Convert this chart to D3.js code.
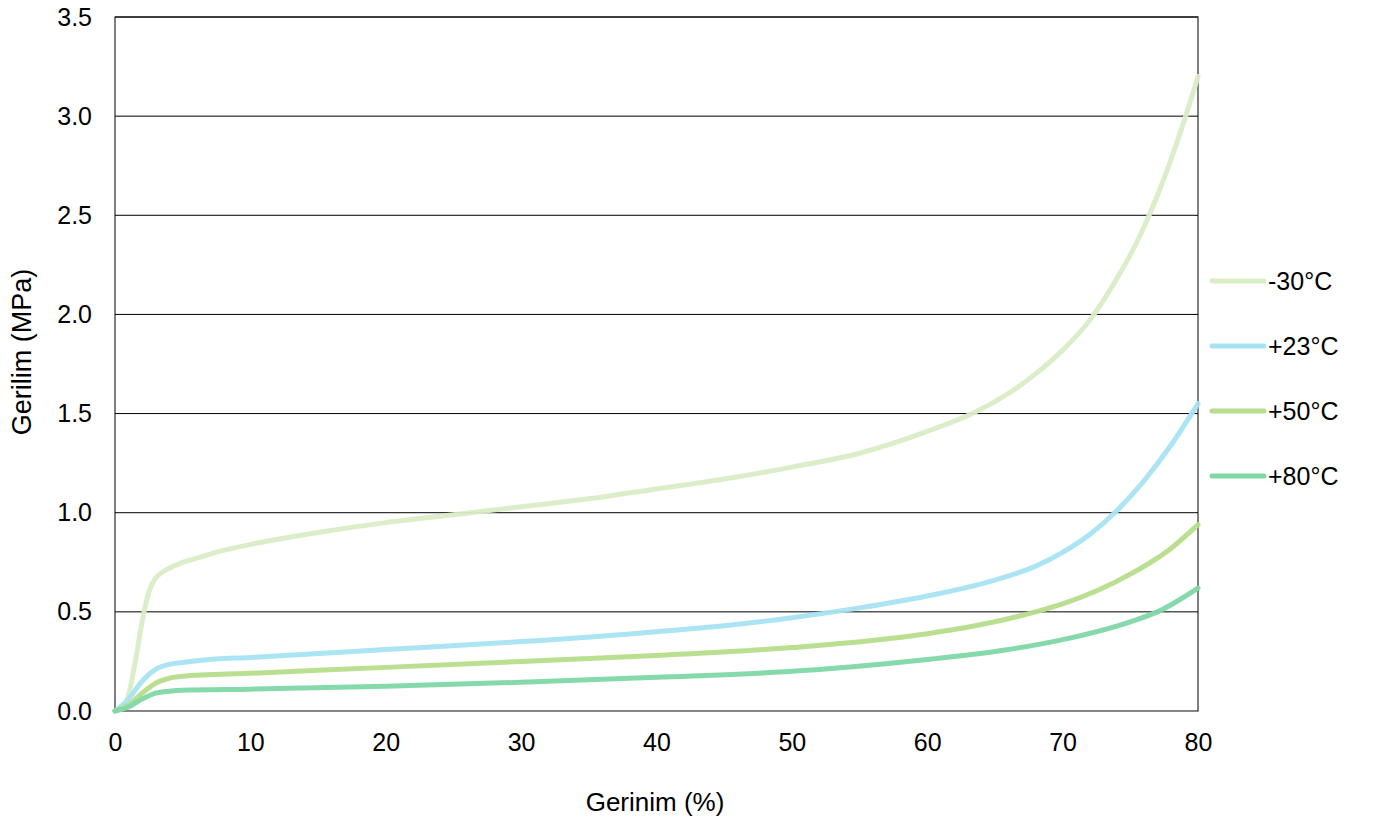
<!DOCTYPE html>
<html><head><meta charset="utf-8">
<script src="https://cdn.jsdelivr.net/npm/d3@7"></script>
<style>body{margin:0;background:#fff;} text{font-family:"Liberation Sans",Arial,sans-serif;}</style>
</head><body><svg id="c" width="1373" height="820"></svg>
<script>
const seriesNames = ["-30°C", "+23°C", "+50°C", "+80°C"];
const seriesColors = ["#d9edc6", "#a7e3f1", "#b6dd8b", "#80d7a6"];
const strain30 = [0,0.5,1,1.5,2,2.5,3,3.5,4,5,6,8,10,15,20,25,30,35,40,45,50,55,60,63,65,68,70,72,73,74,75,76,77,78,79,80];
const stress30 = [0,0.01,0.08,0.25,0.45,0.6,0.67,0.70,0.72,0.75,0.77,0.81,0.84,0.90,0.95,0.99,1.03,1.07,1.12,1.17,1.23,1.30,1.41,1.49,1.56,1.70,1.82,1.97,2.07,2.18,2.30,2.44,2.60,2.78,2.98,3.2];
const strain23 = [0,1,2,3,4,5,7,10,20,30,40,45,50,55,60,65,68,70,72,74,76,78,80];
const stress23 = [0,0.06,0.15,0.21,0.235,0.245,0.26,0.27,0.31,0.35,0.40,0.43,0.47,0.52,0.58,0.66,0.73,0.80,0.89,1.01,1.16,1.34,1.55];
const strain50 = [0,1,2,3,4,5,10,20,30,40,50,60,65,68,70,75,78,80];
const stress50 = [0,0.03,0.09,0.14,0.165,0.175,0.19,0.22,0.25,0.28,0.32,0.39,0.45,0.50,0.54,0.69,0.82,0.94];
const strain80 = [0,1,2,3,4,5,10,20,30,40,50,60,65,70,75,77,80];
const stress80 = [0,0.02,0.06,0.09,0.10,0.105,0.11,0.125,0.145,0.17,0.20,0.26,0.30,0.36,0.45,0.50,0.62];
const xTicks = [0,10,20,30,40,50,60,70,80];
const yTicks = [0,0.5,1.0,1.5,2.0,2.5,3.0,3.5];

const series = [[strain30,stress30],[strain23,stress23],[strain50,stress50],[strain80,stress80]];
const svg = d3.select("#c");
const L=115,R=1198,T=17,B=711;
const x = d3.scaleLinear().domain([0,80]).range([L,R]);
const y = d3.scaleLinear().domain([0,3.5]).range([B,T]);
const FF = "Liberation Sans, Arial, sans-serif";

svg.append("g").selectAll("line").data(yTicks.slice(1)).join("line")
  .attr("x1",L).attr("x2",R).attr("y1",d=>y(d)).attr("y2",d=>y(d))
  .attr("stroke","#000").attr("stroke-width",1);
svg.append("rect").attr("x",L).attr("y",T).attr("width",R-L).attr("height",B-T)
  .attr("fill","none").attr("stroke","#000").attr("stroke-width",1);

const yAxis = d3.axisLeft(y).tickValues(yTicks).tickFormat(d3.format(".1f")).tickSize(0).tickPadding(23);
const gy = svg.append("g").attr("transform",`translate(${L},0)`).call(yAxis);
gy.select(".domain").remove();
gy.selectAll("text").attr("font-size",25).attr("fill","#000").attr("font-family",FF);
const xAxis = d3.axisBottom(x).tickValues(xTicks).tickFormat(d3.format("d")).tickSize(0).tickPadding(22);
const gx = svg.append("g").attr("transform",`translate(0,${B})`).call(xAxis);
gx.select(".domain").attr("stroke","#888");
gx.selectAll("text").attr("font-size",25).attr("fill","#000").attr("font-family",FF);

const line = d3.line().x(d=>x(d[0])).y(d=>y(d[1])).curve(d3.curveMonotoneX);
series.forEach((s,i)=>{
  const pts = s[0].map((v,j)=>[v,s[1][j]]);
  svg.append("path").datum(pts).attr("d",line).attr("fill","none")
    .attr("stroke",seriesColors[i]).attr("stroke-width",5).attr("stroke-linecap","round")
    .attr("stroke-opacity",0.95);
});

const ly = [281,346,411,476];
seriesNames.forEach((n,i)=>{
  svg.append("line").attr("x1",1212).attr("x2",1264).attr("y1",ly[i]).attr("y2",ly[i])
    .attr("stroke",seriesColors[i]).attr("stroke-width",5).attr("stroke-linecap","round");
  svg.append("text").attr("x",1268).attr("y",ly[i]+9).attr("font-size",25).text(n);
});

svg.append("text").attr("x",655).attr("y",811).attr("text-anchor","middle").attr("font-size",26).text("Gerinim (%)");
svg.append("text").attr("transform","translate(31,352) rotate(-90)").attr("text-anchor","middle").attr("font-size",27).text("Gerilim (MPa)");
</script></body></html>
